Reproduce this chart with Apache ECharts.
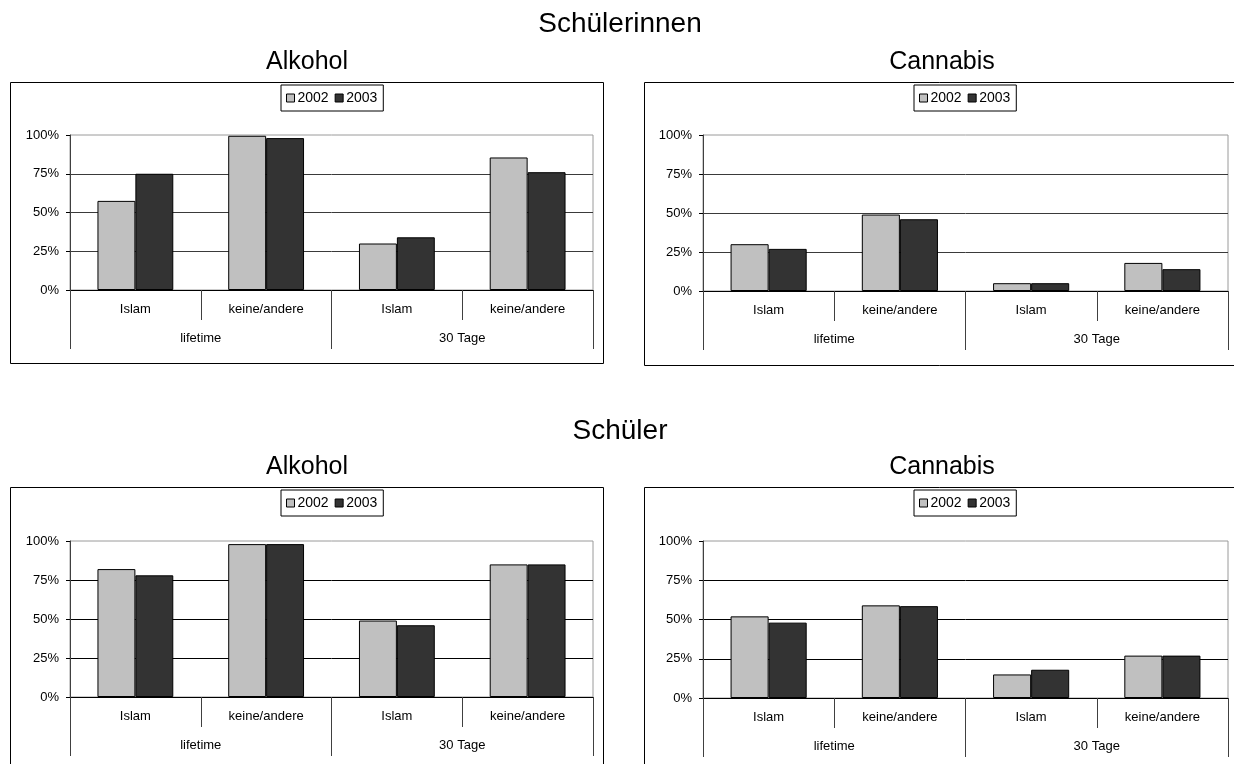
<!DOCTYPE html>
<html>
<head>
<meta charset="utf-8">
<script src="https://cdn.jsdelivr.net/npm/echarts@6/dist/echarts.min.js"></script>
<style>
  html, body { margin: 0; padding: 0; background: #fff; }
  #chart { width: 1234px; height: 764px; }
</style>
</head>
<body>
<div id="chart"></div>
<script>
// Categories and grouping of the x axis
const categories = ['Islam', 'keine/andere', 'Islam', 'keine/andere'];
const groups = ['lifetime', '30 Tage'];
const years = ['2002', '2003'];

// Share (%) per category, by survey year
const girlsAlcohol2002 = [57.5, 99.5, 30, 85.5];
const girlsAlcohol2003 = [75, 98, 34, 76];
const girlsCannabis2002 = [30, 49, 5, 18];
const girlsCannabis2003 = [27, 46, 5, 14];
const boysAlcohol2002 = [82, 98, 49, 85];
const boysAlcohol2003 = [78, 98, 46, 85];
const boysCannabis2002 = [52, 59, 15, 27];
const boysCannabis2003 = [48, 58.5, 18, 27];

const FONT = '"Liberation Sans", Arial, sans-serif';
const yearColors = ['#c0c0c0', '#333333'];

// Panel layout: plot rectangle, frame, subtitle, legend
const panels = [
  { title: 'Alkohol', data: [girlsAlcohol2002, girlsAlcohol2003],
    grid: { left: 70, top: 135, width: 523, height: 155 },
    frame: [10.5, 82.5, 593, 281], titleXY: [307, 62], legend: { left: 281, top: 85 }, gridColor: '#3a3a3a' },
  { title: 'Cannabis', data: [girlsCannabis2002, girlsCannabis2003],
    grid: { left: 703, top: 135, width: 525, height: 156 },
    frame: [644.5, 82.5, 700, 283], titleXY: [942, 62], legend: { left: 914, top: 85 }, gridColor: '#3a3a3a' },
  { title: 'Alkohol', data: [boysAlcohol2002, boysAlcohol2003],
    grid: { left: 70, top: 541, width: 523, height: 156 },
    frame: [10.5, 487.5, 593, 400], titleXY: [307, 467], legend: { left: 281, top: 490 }, gridColor: '#000' },
  { title: 'Cannabis', data: [boysCannabis2002, boysCannabis2003],
    grid: { left: 703, top: 541, width: 525, height: 157 },
    frame: [644.5, 487.5, 700, 400], titleXY: [942, 467], legend: { left: 914, top: 490 }, gridColor: '#000' }
];

const headings = [
  { text: 'Schülerinnen', x: 620, y: 24 },
  { text: 'Schüler', x: 620, y: 431 }
];

const option = {
  animation: false,
  backgroundColor: '#fff',
  textStyle: { fontFamily: FONT },
  grid: [],
  xAxis: [],
  yAxis: [],
  series: [],
  legend: [],
  graphic: []
};

panels.forEach((p, i) => {
  option.grid.push(Object.assign({
    show: true, borderColor: '#9a9a9a', borderWidth: 1, backgroundColor: 'transparent'
  }, p.grid));

  // value axis 0–100 %
  option.yAxis.push({
    type: 'value', gridIndex: i, min: 0, max: 100, interval: 25,
    axisLine: { show: true, lineStyle: { color: '#404040', width: 1 } },
    axisTick: { show: true, length: 4, lineStyle: { color: '#000' } },
    axisLabel: { formatter: '{value}%', fontSize: 13, color: '#000', margin: 11, fontFamily: FONT },
    splitLine: { show: true, showMaxLine: false, lineStyle: { color: p.gridColor, width: 1 } }
  });

  // inner category axis
  option.xAxis.push({
    type: 'category', gridIndex: i, data: categories, position: 'bottom',
    boundaryGap: true,
    axisLine: { show: true, lineStyle: { color: '#000', width: 1 } },
    axisTick: { show: true, length: 30, interval: 0, lineStyle: { color: '#404040' } },
    axisLabel: { interval: 0, fontSize: 13, color: '#000', margin: 13, fontFamily: FONT },
    splitLine: { show: false }
  });
  // outer group axis (lifetime / 30 Tage)
  option.xAxis.push({
    type: 'category', gridIndex: i, data: groups, position: 'bottom', offset: 0,
    boundaryGap: true,
    axisLine: { show: false },
    axisTick: { show: true, length: 59, interval: 0, lineStyle: { color: '#404040' } },
    axisLabel: { interval: 0, fontSize: 13, color: '#000', margin: 42, fontFamily: FONT },
    splitLine: { show: false }
  });

  years.forEach((y, k) => {
    option.series.push({
      type: 'bar', name: y, xAxisIndex: i * 2, yAxisIndex: i,
      data: p.data[k],
      barGap: '0%', barCategoryGap: '42%',
      itemStyle: { color: yearColors[k], borderColor: '#000', borderWidth: 1 }
    });
  });

  option.legend.push({
    data: years, left: p.legend.left, top: p.legend.top,
    orient: 'horizontal', icon: 'rect',
    itemWidth: 8, itemHeight: 8, itemGap: 6,
    padding: [6, 6, 6, 5],
    borderColor: '#000', borderWidth: 1, backgroundColor: '#fff',
    itemStyle: { borderColor: '#000', borderWidth: 1 },
    textStyle: { fontSize: 14, color: '#000', fontFamily: FONT, padding: [0, 0, 0, -2] },
    selectedMode: false
  });

  option.graphic.push({
    type: 'rect', z: -1, silent: true,
    shape: { x: p.frame[0], y: p.frame[1], width: p.frame[2], height: p.frame[3] },
    style: { fill: 'transparent', stroke: '#000', lineWidth: 1 }
  });
  option.graphic.push({
    type: 'text', x: p.titleXY[0], y: p.titleXY[1], silent: true,
    style: { text: p.title, fontSize: 25, fontFamily: FONT, fill: '#000', align: 'center', verticalAlign: 'middle' }
  });
});

headings.forEach(h => {
  option.graphic.push({
    type: 'text', x: h.x, y: h.y, silent: true,
    style: { text: h.text, fontSize: 28, fontFamily: FONT, fill: '#000', align: 'center', verticalAlign: 'middle' }
  });
});

const chart = echarts.init(document.getElementById('chart'), null, { renderer: 'canvas' });
chart.setOption(option);
</script>
</body>
</html>
